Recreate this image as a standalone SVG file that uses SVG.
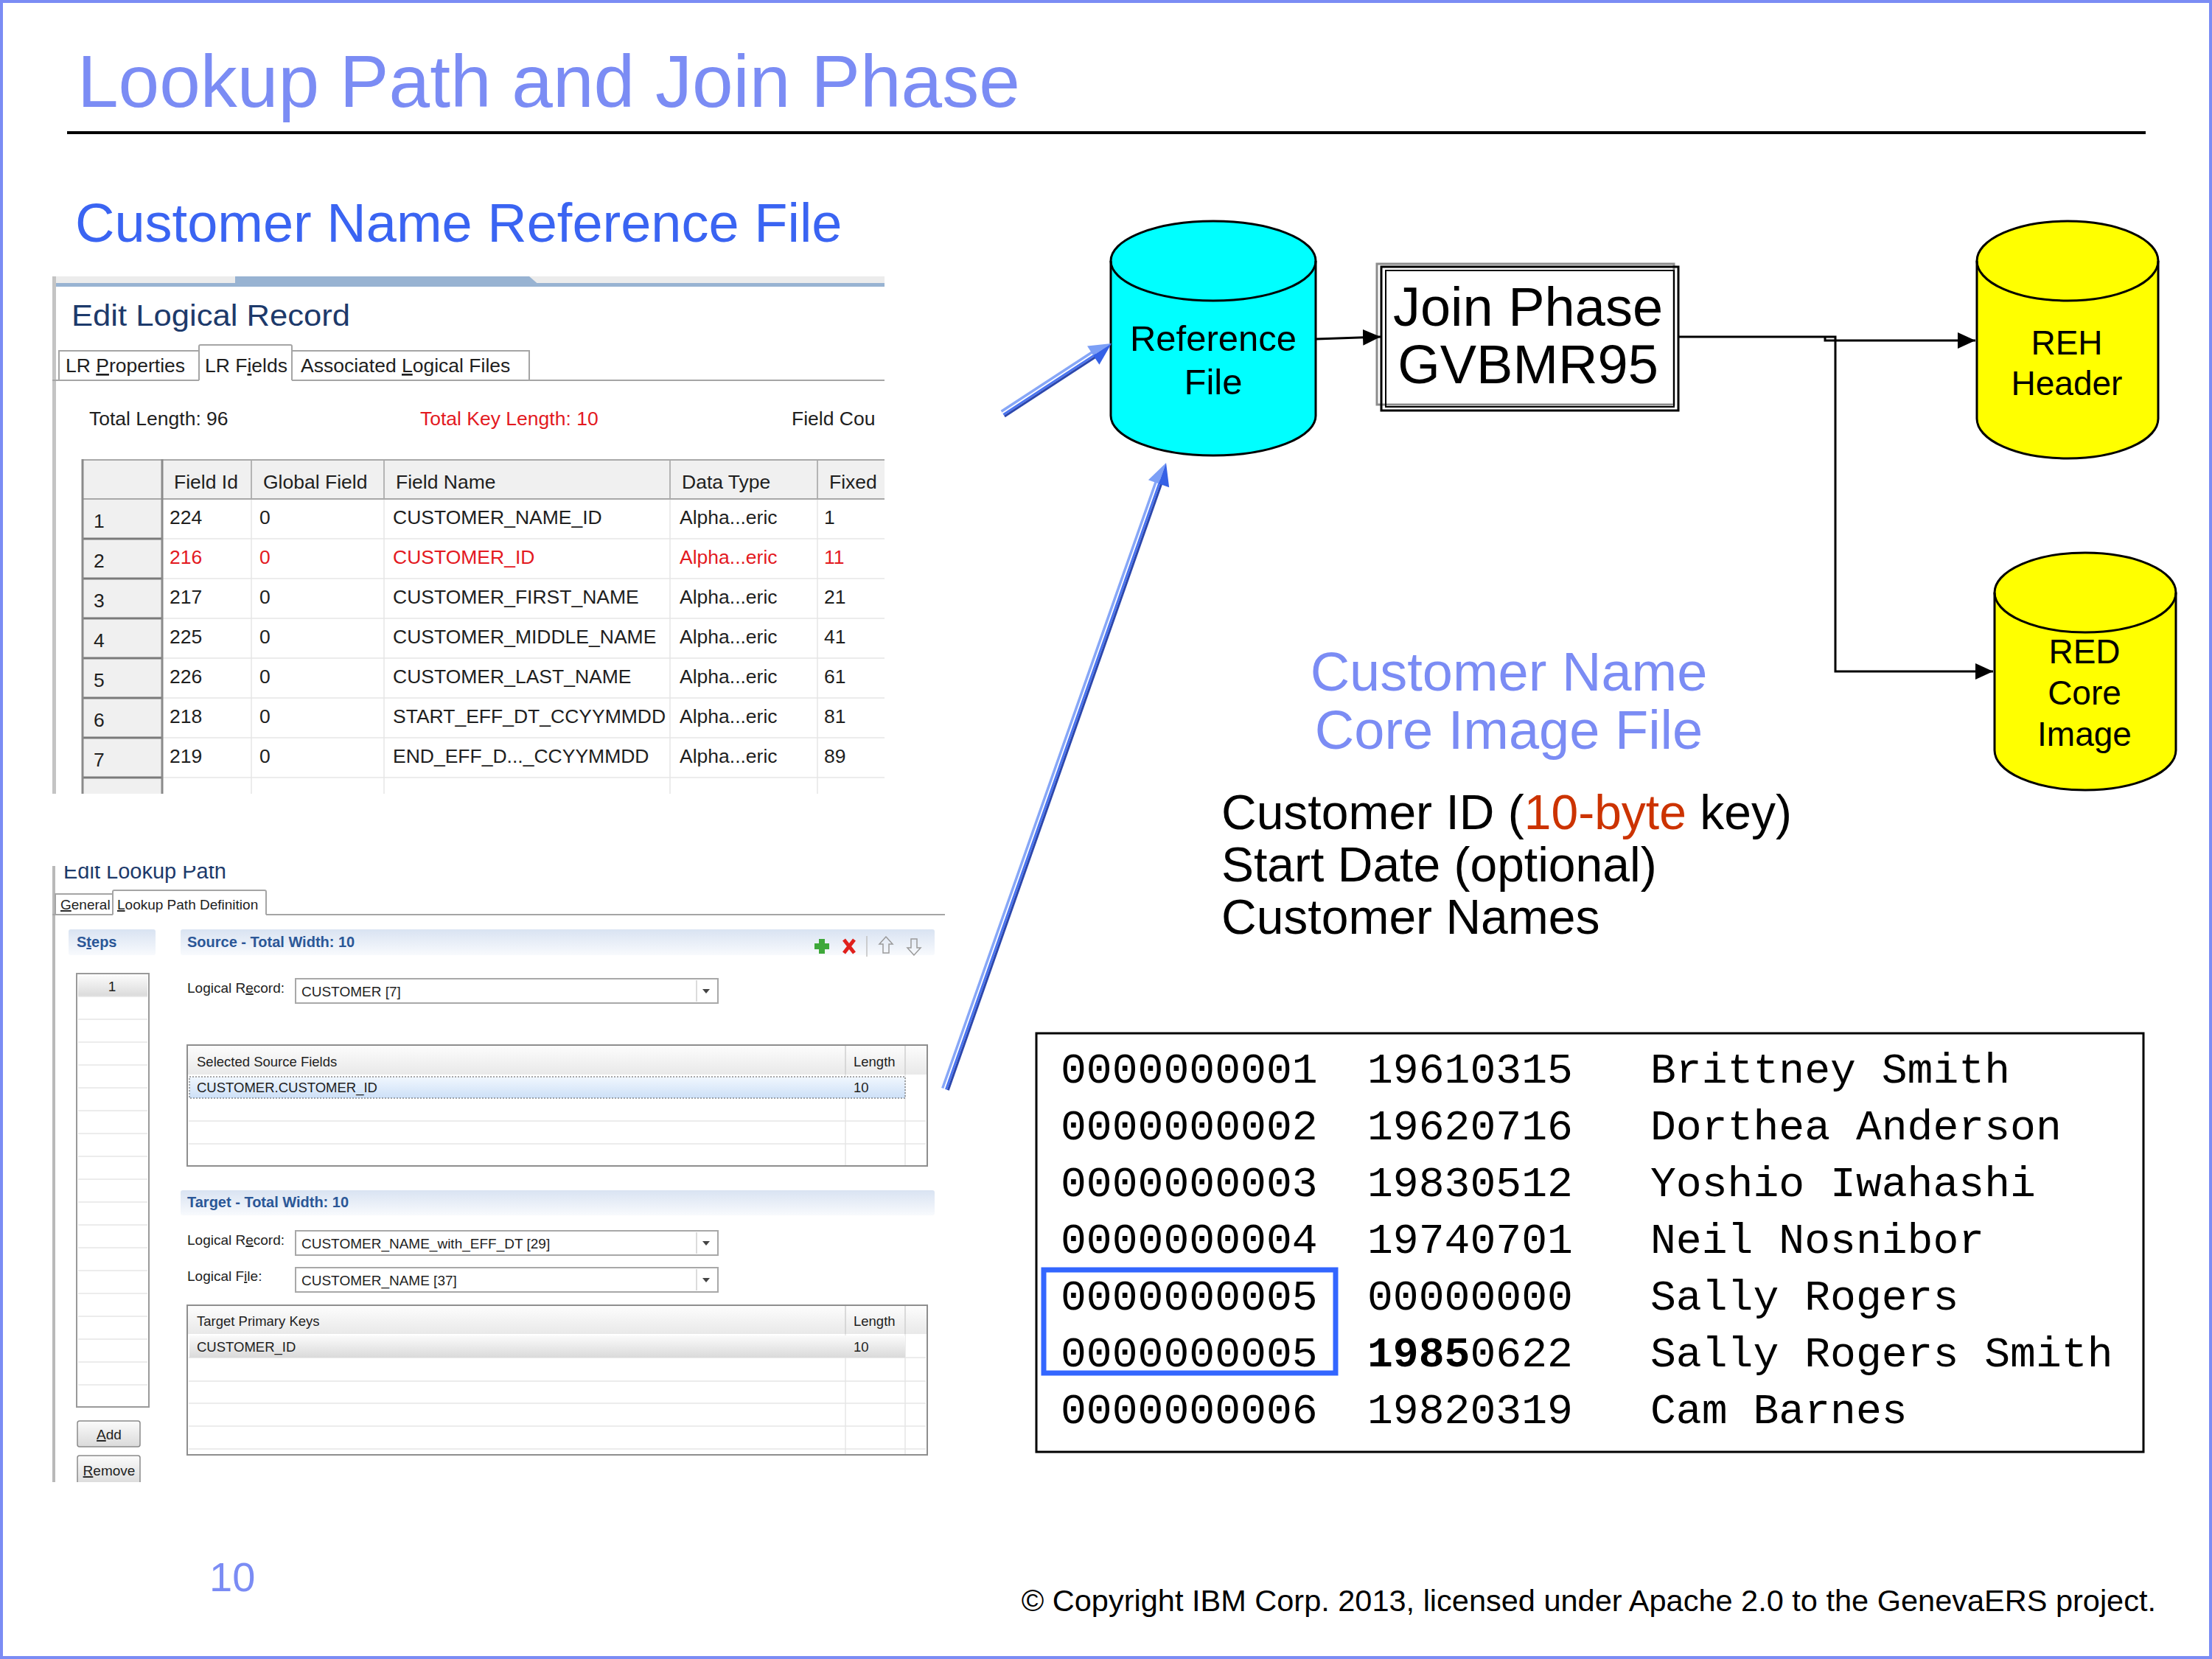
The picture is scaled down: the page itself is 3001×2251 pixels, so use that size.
<svg xmlns="http://www.w3.org/2000/svg" width="3001" height="2251" viewBox="0 0 3001 2251">
<style>
text{font-family:"Liberation Sans",Arial,sans-serif}
.title{font-size:100px;fill:#7b8cf4}
.sub{font-size:74px;fill:#3a64f2}
.blue2{font-size:74px;fill:#7b8cf4;text-anchor:middle}
.blk{font-size:66px;fill:#000}
.ui{font-size:26.5px;fill:#1e1e1e}
.red{fill:#e3191f}
.mono text{font-family:"Liberation Mono","Courier New",monospace;font-size:58.1px;fill:#000}
.node{font-size:49px;fill:#000;text-anchor:middle}
.node2{font-size:46px;fill:#000;text-anchor:middle}
.conn{fill:none;stroke:#000;stroke-width:3}
.s2{font-size:19px;fill:#1e1e1e}
.s3{font-size:18.5px;fill:#1e1e1e}
.hdr{font-size:20px;font-weight:bold;fill:#2b5797}
.lt{stroke:#e6e6e6;stroke-width:1.5;fill:none}
.tab{fill:none;stroke:#a5a5a5;stroke-width:2}
.box{fill:#fff;stroke:#a8a8a8;stroke-width:2}
</style>
<defs>
<clipPath id="clip1"><rect x="71" y="373" width="1129" height="704"/></clipPath>
<clipPath id="clip2"><rect x="71" y="1175" width="1215" height="836"/></clipPath>
<linearGradient id="band" x1="0" y1="0" x2="0" y2="1"><stop offset="0" stop-color="#d9e3f2"/><stop offset="1" stop-color="#f8fafd"/></linearGradient>
<linearGradient id="btn" x1="0" y1="0" x2="0" y2="1"><stop offset="0" stop-color="#fbfbfb"/><stop offset="1" stop-color="#dadada"/></linearGradient>
<linearGradient id="sel" x1="0" y1="0" x2="0" y2="1"><stop offset="0" stop-color="#f1f7fe"/><stop offset="1" stop-color="#cde0f7"/></linearGradient>
<marker id="ah" markerUnits="userSpaceOnUse" markerWidth="24" markerHeight="22" refX="24" refY="11" orient="auto"><path d="M0,0 L24,11 L0,22 Z" fill="#000"/></marker>
</defs>

<rect x="0" y="0" width="3001" height="2251" fill="#fff"/>
<rect x="2" y="2" width="2997" height="2247" fill="none" stroke="#7b8cf4" stroke-width="4"/>

<g id="heading">
<text class="title" x="105" y="145">Lookup Path and Join Phase</text>
<rect x="91" y="178" width="2820" height="4" fill="#000"/>
<text class="sub" x="102" y="328">Customer Name Reference File</text>
</g>

<g id="lr-screenshot" clip-path="url(#clip1)">
<rect x="71" y="373" width="1129" height="704" fill="#fff"/>
<rect x="71" y="375" width="1129" height="9" fill="#ececec"/>
<polygon points="319,375 718,375 733,388 319,388" fill="#98b3d2"/>
<rect x="71" y="384" width="1129" height="5" fill="#98b3d2"/>
<rect x="71" y="375" width="5" height="704" fill="#c4c4c4"/>
<text x="97" y="442" font-size="40" fill="#1d3a6b" textLength="378" lengthAdjust="spacingAndGlyphs">Edit Logical Record</text>
<path class="tab" d="M80,516 V476 H270 M396,476 H718 V516 M270,516 V470 Q270,468 272,468 H394 Q396,468 396,470 V516 M71,516 H270 M396,516 H1200"/>
<text class="ui" x="89" y="505" font-size="27">LR <tspan text-decoration="underline">P</tspan>roperties</text>
<text class="ui" x="278" y="505" font-size="27">LR F<tspan text-decoration="underline">i</tspan>elds</text>
<text class="ui" x="408" y="505" font-size="27">Associated <tspan text-decoration="underline">L</tspan>ogical Files</text>
<text class="ui" x="121" y="577" font-size="27">Total Length: 96</text>
<text class="ui red" x="570" y="577" font-size="27">Total Key Length: 10</text>
<text class="ui" x="1074" y="577" font-size="27">Field Cou</text>
<rect x="111" y="623" width="1089" height="54" fill="#f0f0f0"/>
<rect x="111" y="677" width="109" height="400" fill="#f0f0f0"/>
<path class="lt" d="M220,731 H1200 M220,785 H1200 M220,839 H1200 M220,893 H1200 M220,947 H1200 M220,1001 H1200 M220,1055 H1200 M341,677 V1077 M521,677 V1077 M909,677 V1077 M1109,677 V1077"/>
<path d="M341,623 V677 M521,623 V677 M909,623 V677 M1109,623 V677" stroke="#b4b4b4" stroke-width="2" fill="none"/>
<path d="M111,731 H220 M111,785 H220 M111,839 H220 M111,893 H220 M111,947 H220 M111,1001 H220 M111,1055 H220" stroke="#7a7a7a" stroke-width="3" fill="none"/>
<path d="M111,624 H1200 M111,677 H1200" stroke="#a8a8a8" stroke-width="2" fill="none"/>
<path d="M112,623 V1077 M220,623 V1077" stroke="#8a8a8a" stroke-width="3" fill="none"/>
<g class="ui">
<text x="236" y="663">Field Id</text><text x="357" y="663">Global Field</text><text x="537" y="663">Field Name</text><text x="925" y="663">Data Type</text><text x="1125" y="663">Fixed</text>
<text x="127" y="716">1</text><text x="230" y="711">224</text><text x="352" y="711">0</text><text x="533" y="711">CUSTOMER_NAME_ID</text><text x="922" y="711">Alpha...eric</text><text x="1118" y="711">1</text>
<text x="127" y="770">2</text>
<g class="red"><text x="230" y="765">216</text><text x="352" y="765">0</text><text x="533" y="765">CUSTOMER_ID</text><text x="922" y="765">Alpha...eric</text><text x="1118" y="765">11</text></g>
<text x="127" y="824">3</text><text x="230" y="819">217</text><text x="352" y="819">0</text><text x="533" y="819">CUSTOMER_FIRST_NAME</text><text x="922" y="819">Alpha...eric</text><text x="1118" y="819">21</text>
<text x="127" y="878">4</text><text x="230" y="873">225</text><text x="352" y="873">0</text><text x="533" y="873">CUSTOMER_MIDDLE_NAME</text><text x="922" y="873">Alpha...eric</text><text x="1118" y="873">41</text>
<text x="127" y="932">5</text><text x="230" y="927">226</text><text x="352" y="927">0</text><text x="533" y="927">CUSTOMER_LAST_NAME</text><text x="922" y="927">Alpha...eric</text><text x="1118" y="927">61</text>
<text x="127" y="986">6</text><text x="230" y="981">218</text><text x="352" y="981">0</text><text x="533" y="981">START_EFF_DT_CCYYMMDD</text><text x="922" y="981">Alpha...eric</text><text x="1118" y="981">81</text>
<text x="127" y="1040">7</text><text x="230" y="1035">219</text><text x="352" y="1035">0</text><text x="533" y="1035">END_EFF_D..._CCYYMMDD</text><text x="922" y="1035">Alpha...eric</text><text x="1118" y="1035">89</text>
</g>
</g>

<g id="lookup-screenshot" clip-path="url(#clip2)">
<rect x="71" y="1175" width="1215" height="836" fill="#fff"/>
<rect x="71" y="1175" width="4" height="836" fill="#b9b9b9"/>
<text x="86" y="1192" font-size="29" fill="#1d3a6b">Edit Lookup Path</text>
<path class="tab" d="M75,1241 V1213 H153 M153,1241 V1210 Q153,1208 155,1208 H359 Q361,1208 361,1210 V1241 M71,1241 H153 M361,1241 H1282"/>
<text class="s2" x="82" y="1234" font-size="19.5"><tspan text-decoration="underline">G</tspan>eneral</text>
<text class="s2" x="159" y="1234" font-size="19.5"><tspan text-decoration="underline">L</tspan>ookup Path Definition</text>
<rect x="93" y="1261" width="118" height="35" rx="3" fill="url(#band)"/>
<rect x="245" y="1261" width="1023" height="35" rx="3" fill="url(#band)"/>
<text class="hdr" x="104" y="1285">S<tspan text-decoration="underline">t</tspan>eps</text>
<text class="hdr" x="254" y="1285">Source - Total Width: 10</text>
<g id="toolbar-icons">
<rect x="1111" y="1274" width="8" height="20" fill="#3ea83a"/><rect x="1105" y="1280" width="20" height="8" fill="#3ea83a"/>
<path d="M1145,1275 L1159,1293 M1159,1275 L1145,1293" stroke="#e0201c" stroke-width="5"/>
<path d="M1176,1270 V1298" stroke="#c0c0c0" stroke-width="1.5"/>
<path d="M1202,1271 l-9,10 h5 v12 h8 v-12 h5 z" fill="none" stroke="#9a9a9a" stroke-width="1.5"/>
<path d="M1240,1296 l-9,-10 h5 v-12 h8 v12 h5 z" fill="none" stroke="#9a9a9a" stroke-width="1.5"/>
</g>
<rect x="104" y="1321" width="98" height="588" fill="#fff" stroke="#9a9a9a" stroke-width="2"/>
<rect x="106" y="1323" width="94" height="29" fill="url(#btn)"/>
<path class="lt" d="M106,1352 H200 M106,1383 H200 M106,1414 H200 M106,1445 H200 M106,1476 H200 M106,1507 H200 M106,1538 H200 M106,1569 H200 M106,1600 H200 M106,1631 H200 M106,1662 H200 M106,1693 H200 M106,1724 H200 M106,1755 H200 M106,1786 H200 M106,1817 H200 M106,1848 H200 M106,1879 H200"/>
<text class="s2" x="152" y="1345" text-anchor="middle">1</text>
<text class="s2" x="254" y="1347">Logical R<tspan text-decoration="underline">e</tspan>cord:</text>
<rect class="box" x="401" y="1328" width="573" height="33"/>
<path d="M945,1330 V1359" stroke="#d0d0d0" stroke-width="1.5"/>
<polygon points="953,1342 963,1342 958,1348" fill="#444"/>
<text class="s2" x="409" y="1352">CUSTOMER [7]</text>
<rect x="254" y="1418" width="1004" height="164" fill="#fff" stroke="#8e8e8e" stroke-width="2"/>
<rect x="255" y="1419" width="1002" height="39" fill="url(#btn)" opacity="0.6"/>
<path class="lt" d="M256,1521 H1256 M256,1552 H1256 M1147,1458 V1581 M1228,1458 V1581"/>
<path d="M1147,1419 V1458 M1228,1419 V1458" stroke="#cfcfcf" stroke-width="1.5"/>
<text class="s3" x="267" y="1447">Selected Source Fields</text>
<text class="s3" x="1158" y="1447">Length</text>
<rect x="257" y="1461" width="971" height="29" fill="url(#sel)" stroke="#555" stroke-width="1" stroke-dasharray="2,2"/>
<text class="s3" x="267" y="1482">CUSTOMER.CUSTOMER_ID</text>
<text class="s3" x="1158" y="1482">10</text>
<rect x="245" y="1615" width="1023" height="34" rx="3" fill="url(#band)"/>
<text class="hdr" x="254" y="1638">Target - Total Width: 10</text>
<text class="s2" x="254" y="1689">Logical R<tspan text-decoration="underline">e</tspan>cord:</text>
<rect class="box" x="401" y="1670" width="573" height="33"/>
<path d="M945,1672 V1701" stroke="#d0d0d0" stroke-width="1.5"/>
<polygon points="953,1684 963,1684 958,1690" fill="#444"/>
<text class="s2" x="409" y="1694">CUSTOMER_NAME_with_EFF_DT [29]</text>
<text class="s2" x="254" y="1738">Logical F<tspan text-decoration="underline">i</tspan>le:</text>
<rect class="box" x="401" y="1720" width="573" height="33"/>
<path d="M945,1722 V1751" stroke="#d0d0d0" stroke-width="1.5"/>
<polygon points="953,1734 963,1734 958,1740" fill="#444"/>
<text class="s2" x="409" y="1744">CUSTOMER_NAME [37]</text>
<rect x="254" y="1771" width="1004" height="203" fill="#fff" stroke="#8e8e8e" stroke-width="2"/>
<rect x="255" y="1772" width="1002" height="38" fill="url(#btn)" opacity="0.6"/>
<path class="lt" d="M256,1842 H1256 M256,1874 H1256 M256,1904 H1256 M256,1935 H1256 M256,1966 H1256 M1147,1810 V1973 M1228,1810 V1973"/>
<path d="M1147,1772 V1810 M1228,1772 V1810" stroke="#cfcfcf" stroke-width="1.5"/>
<text class="s3" x="267" y="1799">Target Primary Keys</text>
<text class="s3" x="1158" y="1799">Length</text>
<rect x="257" y="1812" width="971" height="30" fill="url(#btn)"/>
<text class="s3" x="267" y="1834">CUSTOMER_ID</text>
<text class="s3" x="1158" y="1834">10</text>
<rect x="105" y="1928" width="85" height="35" rx="3" fill="url(#btn)" stroke="#8a8a8a" stroke-width="1.5"/>
<text class="s2" x="148" y="1953" text-anchor="middle"><tspan text-decoration="underline">A</tspan>dd</text>
<rect x="105" y="1975" width="85" height="40" rx="3" fill="url(#btn)" stroke="#8a8a8a" stroke-width="1.5"/>
<text class="s2" x="148" y="2002" text-anchor="middle"><tspan text-decoration="underline">R</tspan>emove</text>
</g>

<g id="reference-file">
<path d="M1507,354 A139,54 0 0 1 1785,354 V564 A139,54 0 0 1 1507,564 Z" fill="#00ffff" stroke="#000" stroke-width="3"/>
<path d="M1507,354 A139,54 0 0 0 1785,354" fill="none" stroke="#000" stroke-width="3"/>
<text class="node" x="1646" y="476">Reference</text>
<text class="node" x="1646" y="535">File</text>
</g>

<g id="join-phase">
<rect x="1868" y="358" width="403" height="191" fill="#fff" stroke="#8c8c8c" stroke-width="3"/>
<rect x="1874" y="362" width="403" height="195" fill="none" stroke="#000" stroke-width="3"/>
<rect x="1880" y="367" width="391" height="185" fill="none" stroke="#000" stroke-width="2"/>
<text x="2073" y="442" font-size="74" text-anchor="middle" fill="#000">Join Phase</text>
<text x="2073" y="520" font-size="74" text-anchor="middle" fill="#000">GVBMR95</text>
</g>

<g id="reh-header">
<path d="M2682,354 A123,54 0 0 1 2928,354 V568 A123,54 0 0 1 2682,568 Z" fill="#ffff00" stroke="#000" stroke-width="3"/>
<path d="M2682,354 A123,54 0 0 0 2928,354" fill="none" stroke="#000" stroke-width="3"/>
<text class="node2" x="2804" y="481">REH</text>
<text class="node2" x="2804" y="536">Header</text>
</g>

<g id="red-core-image">
<path d="M2706,804 A123,54 0 0 1 2952,804 V1018 A123,54 0 0 1 2706,1018 Z" fill="#ffff00" stroke="#000" stroke-width="3"/>
<path d="M2706,804 A123,54 0 0 0 2952,804" fill="none" stroke="#000" stroke-width="3"/>
<text class="node2" x="2828" y="900">RED</text>
<text class="node2" x="2828" y="956">Core</text>
<text class="node2" x="2828" y="1012">Image</text>
</g>

<g id="core-image-label">
<text class="blue2" x="2047" y="937">Customer Name</text>
<text class="blue2" x="2047" y="1016">Core Image File</text>
<text class="blk" x="1657" y="1125">Customer ID (<tspan fill="#cc3300">10-byte</tspan> key)</text>
<text class="blk" x="1657" y="1196">Start Date (optional)</text>
<text class="blk" x="1657" y="1267">Customer Names</text>
</g>

<g id="core-image-data">
<rect x="1406" y="1402" width="1502" height="568" fill="#fff" stroke="#000" stroke-width="3"/>
<rect x="1416" y="1723" width="396" height="140" fill="none" stroke="#3366ff" stroke-width="7"/>
<g class="mono">
<text x="1439" y="1469">0000000001</text><text x="1855" y="1469">19610315</text><text x="2239" y="1469">Brittney Smith</text>
<text x="1439" y="1546">0000000002</text><text x="1855" y="1546">19620716</text><text x="2239" y="1546">Dorthea Anderson</text>
<text x="1439" y="1623">0000000003</text><text x="1855" y="1623">19830512</text><text x="2239" y="1623">Yoshio Iwahashi</text>
<text x="1439" y="1700">0000000004</text><text x="1855" y="1700">19740701</text><text x="2239" y="1700">Neil Nosnibor</text>
<text x="1439" y="1777">0000000005</text><text x="1855" y="1777">00000000</text><text x="2239" y="1777">Sally Rogers</text>
<text x="1439" y="1854">0000000005</text><text x="1855" y="1854"><tspan font-weight="bold">1985</tspan>0622</text><text x="2239" y="1854">Sally Rogers Smith</text>
<text x="1439" y="1931">0000000006</text><text x="1855" y="1931">19820319</text><text x="2239" y="1931">Cam Barnes</text>
</g>
</g>

<g id="connectors">
<path class="conn" d="M1786,460 L1873,457" marker-end="url(#ah)"/>
<path class="conn" d="M2278,457 H2490 V911 H2704" marker-end="url(#ah)"/>
<path class="conn" d="M2476,457 V462 H2680" marker-end="url(#ah)"/>
<g transform="translate(1361,562) rotate(-33.15)">
<line x1="0" y1="-4.5" x2="150" y2="-4.5" stroke="#87a7f7" stroke-width="3.5"/>
<line x1="0" y1="0.5" x2="150" y2="0.5" stroke="#4a74ef" stroke-width="3"/>
<line x1="0" y1="3.5" x2="150" y2="3.5" stroke="#2c47ad" stroke-width="3"/>
<polygon points="175.6,0 146,-15 146,0" fill="#7c9ff6"/>
<polygon points="175.6,0 146,0 146,15" fill="#3561e6"/>
</g>
<g transform="translate(1283,1478) rotate(-70.62)">
<line x1="0" y1="-4.5" x2="876" y2="-4.5" stroke="#87a7f7" stroke-width="3.5"/>
<line x1="0" y1="0.5" x2="876" y2="0.5" stroke="#4a74ef" stroke-width="3"/>
<line x1="0" y1="3.5" x2="876" y2="3.5" stroke="#2c47ad" stroke-width="3"/>
<polygon points="901,0 871,-15 871,0" fill="#7c9ff6"/>
<polygon points="901,0 871,0 871,15" fill="#3561e6"/>
</g>
</g>

<g id="footer">
<text x="284" y="2159" font-size="56" fill="#7b8cf4">10</text>
<text x="2925" y="2186" font-size="41.5" fill="#000" text-anchor="end">© Copyright IBM Corp. 2013, licensed under Apache 2.0 to the GenevaERS project.</text>
</g>
</svg>
